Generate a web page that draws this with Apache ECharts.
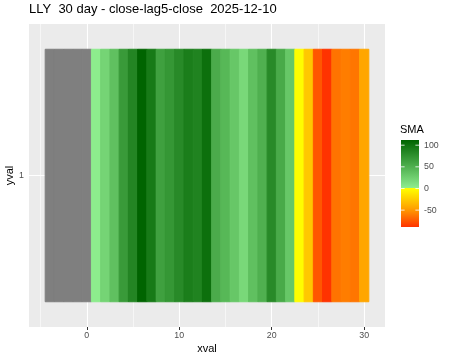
<!DOCTYPE html>
<html><head><meta charset="utf-8">
<script src="https://cdn.jsdelivr.net/npm/echarts@6/dist/echarts.min.js"></script>
<style>html,body{margin:0;padding:0;background:#fff}#c{width:450px;height:360px}</style>
</head><body><div id="c"></div>
<script>
const titleText = 'LLY  30 day - close-lag5-close  2025-12-10';
const xval = [-4,-3,-2,-1,0,1,2,3,4,5,6,7,8,9,10,11,12,13,14,15,16,17,18,19,20,21,22,23,24,25,26,27,28,29,30];
const sma = [null,null,null,null,null,2,21,37,68,85,112,94,63,71,81,91,87,102,54,44,32,18,37,50,81,55,32,-1,-27,-75,-89,-64,-60,-63,-44];
const yCategories = ['1'];
const xTicks = [0,10,20,30];
const xMinor = [-5,5,15,25];
const legendTicks = [100,50,0,-50];
const legendTitle = 'SMA';

const FONT = 'Liberation Sans, Arial, sans-serif';
const vals = sma.filter(v => v !== null);
const vmin = Math.min(...vals), vmax = Math.max(...vals);
function hex(c){return [parseInt(c.slice(1,3),16),parseInt(c.slice(3,5),16),parseInt(c.slice(5,7),16)];}
const negStops = [[vmin,'#FF3300'],[vmin/2,'#FFA500'],[0,'#FFFF00']];
const posStops = [[0,'#90EE90'],[vmax,'#006400']];
function interp(stops, v){
  for(let i=0;i<stops.length-1;i++){
    const [a,ca]=stops[i],[b,cb]=stops[i+1];
    if(v>=a && v<=b){const t=(v-a)/(b-a||1);const A=hex(ca),B=hex(cb);
      return 'rgb('+A.map((x,k)=>Math.round(x+(B[k]-x)*t)).join(',')+')';}
  }
  return v<stops[0][0]?stops[0][1]:stops[stops.length-1][1];
}
function colorFor(v){ if(v===null) return '#7F7F7F'; return v<0?interp(negStops,v):interp(posStops,v); }

const chart = echarts.init(document.getElementById('c'), null, {renderer:'canvas'});
const gridL=29, gridR=65, gridT=24, gridB=33;
const data = xval.map((x,i)=>[x, 1]);

const barX=401, barY=140, barW=18, barH=87;
const off = v => (vmax - v)/(vmax - vmin);
const gradStops = [
  {offset:0,color:'#006400'},
  {offset:off(0),color:'#90EE90'},
  {offset:off(0),color:'#FFFF00'},
  {offset:off(vmin/2),color:'#FFA500'},
  {offset:1,color:'#FF3300'}
];
const graphics = [
  {type:'text', left:400, top:124, style:{text:legendTitle, fontSize:11, fill:'#000', fontFamily:FONT}},
  {type:'rect', shape:{x:barX,y:barY,width:barW,height:barH}, style:{fill:new echarts.graphic.LinearGradient(0,0,0,1,gradStops)}}
];
legendTicks.forEach(t=>{
  const y = barY + off(t)*barH;
  graphics.push({type:'line', shape:{x1:barX,y1:y,x2:barX+3.6,y2:y}, style:{stroke:'#fff',lineWidth:0.8}});
  graphics.push({type:'line', shape:{x1:barX+barW-3.6,y1:y,x2:barX+barW,y2:y}, style:{stroke:'#fff',lineWidth:0.8}});
  graphics.push({type:'text', x:424, y:y, style:{text:String(t), fontSize:8.8, fill:'#4D4D4D', fontFamily:FONT, verticalAlign:'middle'}});
});

const gridLines = [];
xTicks.forEach(x=>gridLines.push([{coord:[x,0.4],lineStyle:{width:1.1}},{coord:[x,1.6]}]));
xMinor.forEach(x=>gridLines.push([{coord:[x,0.4],lineStyle:{width:0.55}},{coord:[x,1.6]}]));
gridLines.push([{coord:[-6.25,1],lineStyle:{width:1.1}},{coord:[32.25,1]}]);

chart.setOption({
  animation:false,
  backgroundColor:'#fff',
  title:{text:titleText, left:29, top:3, padding:0, textStyle:{fontSize:13, fontWeight:'normal', color:'#000', fontFamily:FONT}},
  grid:{left:gridL, right:gridR, top:gridT, bottom:gridB, show:true, backgroundColor:'#EBEBEB', borderWidth:0, containLabel:false, outerBoundsMode:'none'},
  xAxis:{type:'value', min:-6.25, max:32.25, name:'xval', nameLocation:'middle', nameGap:16, nameMoveOverlap:false,
    nameTextStyle:{fontSize:11, color:'#000', fontFamily:FONT},
    axisLine:{show:false}, splitLine:{show:false},
    axisTick:{show:true, length:3, lineStyle:{color:'#333',width:1}, customValues:xTicks},
    axisLabel:{color:'#4D4D4D', fontSize:8.8, margin:4, fontFamily:FONT, customValues:xTicks}},
  yAxis:{type:'value', min:0.4, max:1.6, name:'yval', nameLocation:'middle', nameGap:14, nameRotate:90, nameMoveOverlap:false,
    nameTextStyle:{fontSize:11, color:'#000', fontFamily:FONT},
    axisLine:{show:false}, splitLine:{show:false},
    axisTick:{show:true, length:3, lineStyle:{color:'#333',width:1}, customValues:[1]},
    axisLabel:{color:'#4D4D4D', fontSize:8.8, margin:5, fontFamily:FONT, customValues:[1], formatter:()=>yCategories[0]}},
  graphic:graphics,
  series:[
    {type:'line', data:[], z:1, silent:true,
     markLine:{silent:true, symbol:['none','none'], label:{show:false}, lineStyle:{color:'#fff', type:'solid'}, animation:false, data:gridLines}},
    {type:'custom', zlevel:1, z:2, data:data, encode:{x:0,y:1},
     renderItem:function(params, api){
       const x = api.value(0);
       const p1 = api.coord([x-0.5, 1.5]);
       const p2 = api.coord([x+0.5, 0.5]);
       const c = colorFor(sma[params.dataIndex]);
       return {type:'rect', shape:{x:p1[0], y:p1[1], width:p2[0]-p1[0], height:p2[1]-p1[1]},
               style:{fill:c, stroke:c, lineWidth:1}};
     }}
  ]
});
</script></body></html>
